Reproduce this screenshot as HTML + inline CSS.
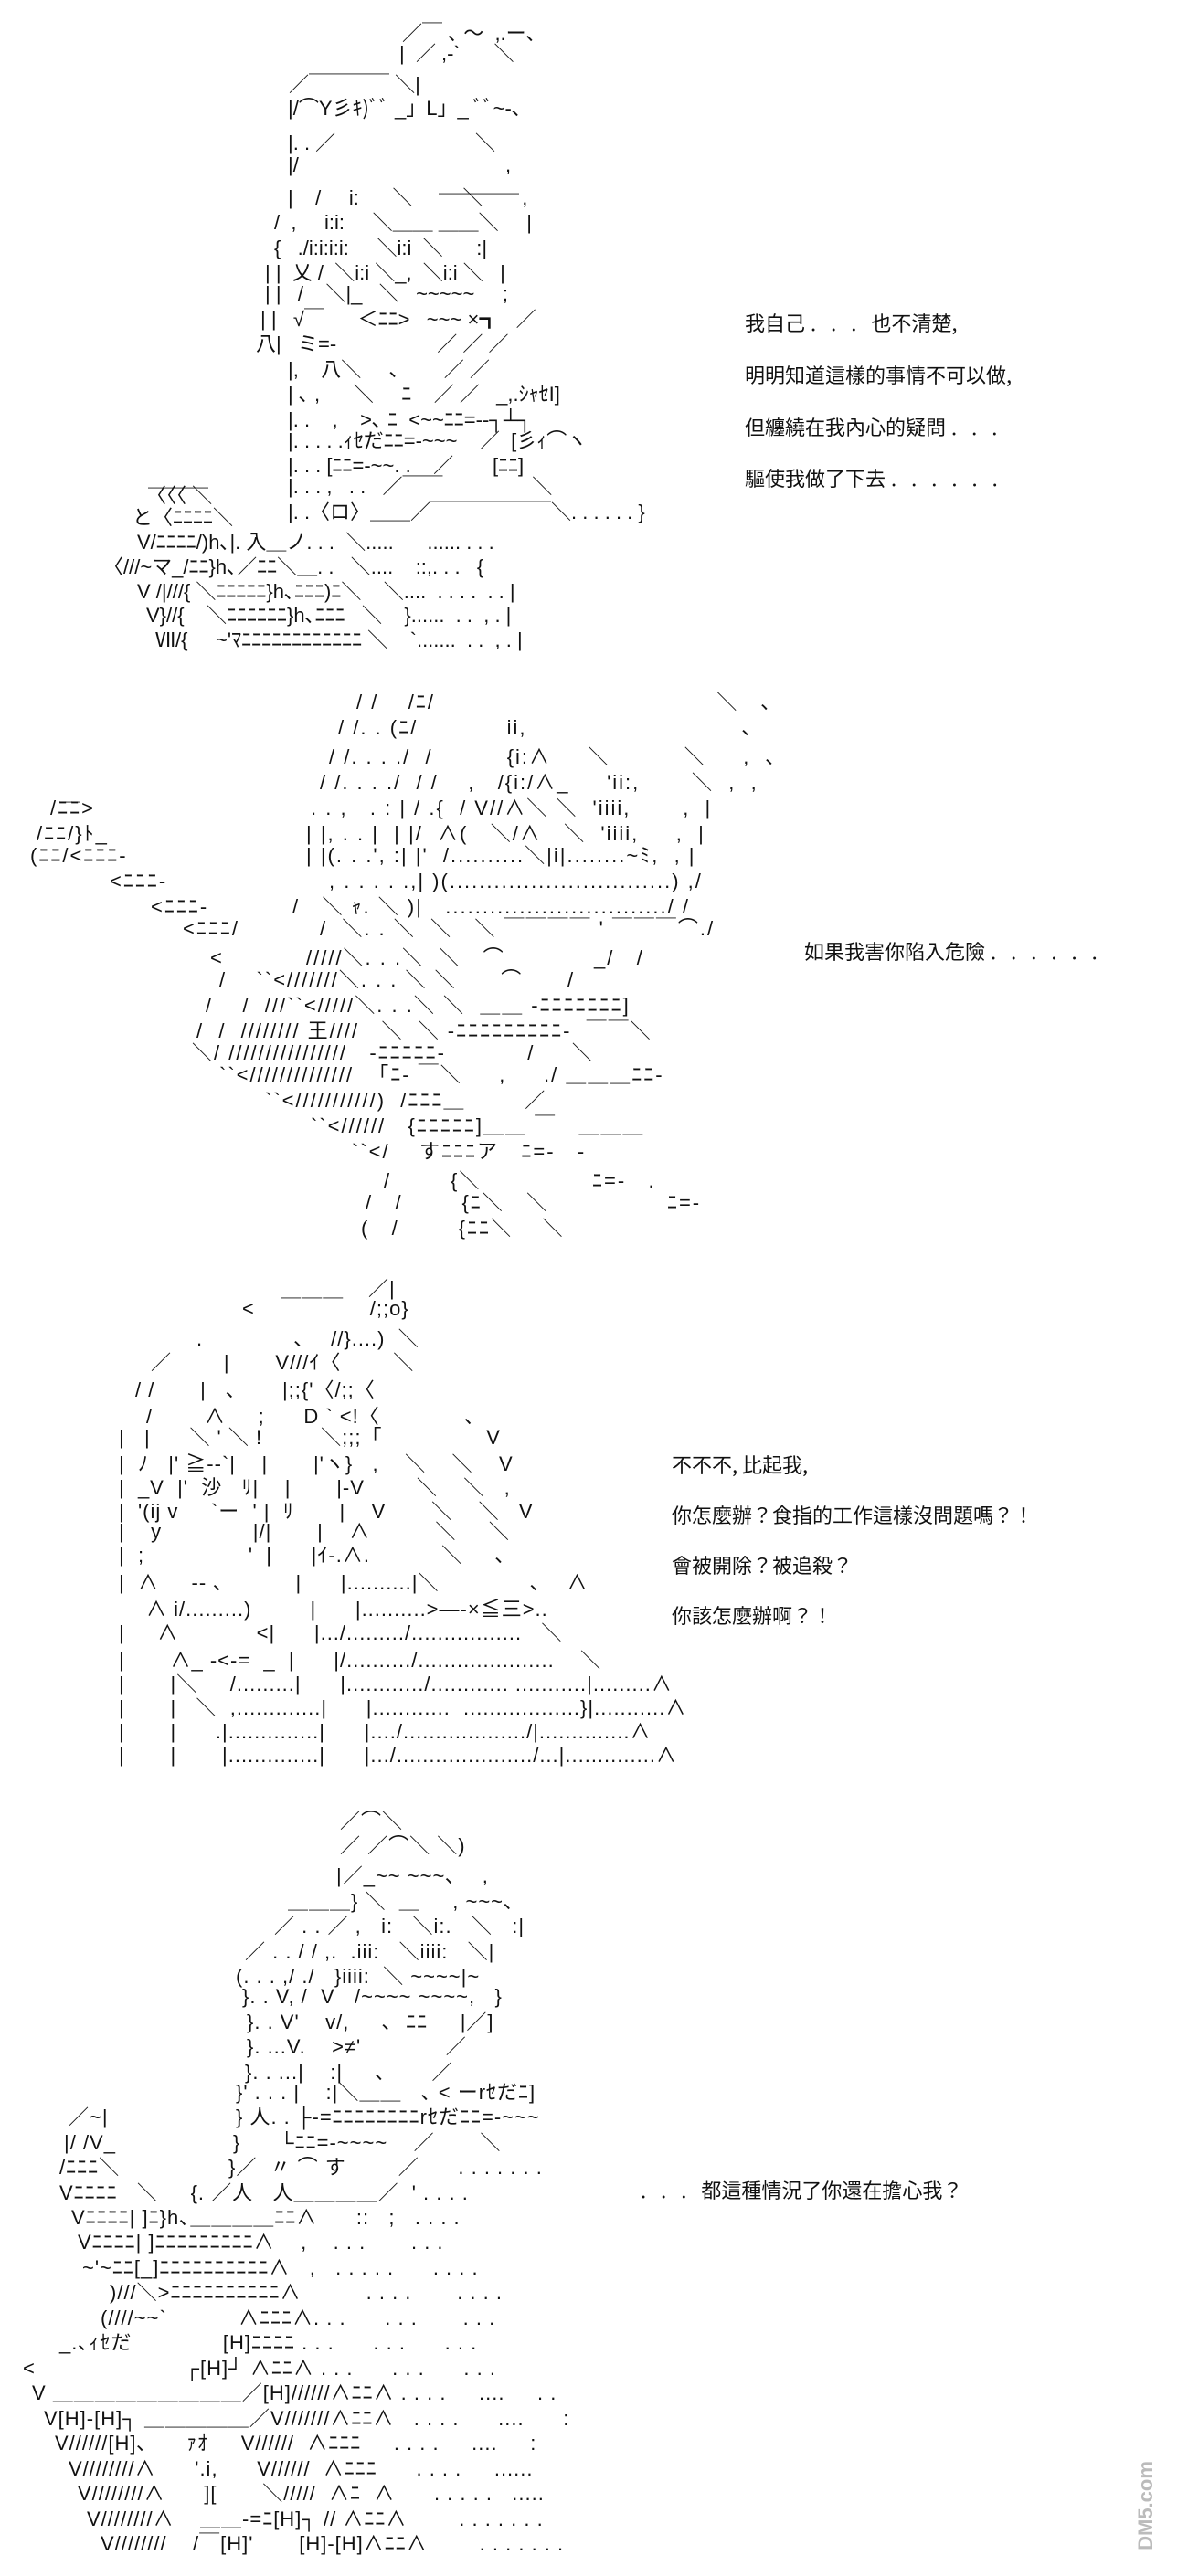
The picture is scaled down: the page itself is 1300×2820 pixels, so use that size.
<!DOCTYPE html>
<html><head><meta charset="utf-8">
<style>
html,body{margin:0;padding:0;background:#fff;}
body{width:1300px;height:2820px;position:relative;overflow:hidden;}
.r{position:absolute;white-space:pre;font-family:"Liberation Sans","Noto Sans CJK JP",sans-serif;font-size:22px;line-height:26px;color:#111;}
.p2 .r{letter-spacing:2px;}
.p3 .r,.p4 .r{letter-spacing:1px;}
.t{position:absolute;white-space:pre;font-family:"Noto Sans CJK JP","Liberation Sans",sans-serif;font-size:22px;line-height:26px;color:#111;}
.d{letter-spacing:16px;padding-left:6px;}
</style></head><body>

<!-- Panel 1 -->
<div class="p1">
<div class="r" style="top:24px;left:440px">／￣ ､ ～  ,.ー､</div>
<div class="r" style="top:46px;left:437px">|  ／ ,-`      ＼</div>
<div class="r" style="top:80px;left:316px">／￣￣￣￣ ＼|</div>
<div class="r" style="top:106px;left:315px">|/⌒Y彡ｷ)ﾞﾞ _」L」_ ﾞﾞ~-､</div>
<div class="r" style="top:144px;left:315px">|. . ／                         ＼</div>
<div class="r" style="top:168px;left:315px">|/                                     ,</div>
<div class="r" style="top:190px;left:480px">＿＿＿＿</div>
<div class="r" style="top:204px;left:315px">|    /     i:      ＼         ＼       ,</div>
<div class="r" style="top:231px;left:300px">/  ,     i:i:     ＼＿＿ ＿＿＼     |</div>
<div class="r" style="top:259px;left:300px">{   ./i:i:i:i:     ＼i:i  ＼      :|</div>
<div class="r" style="top:286px;left:290px">| |  乂 /  ＼i:i ＼_,  ＼i:i ＼   |</div>
<div class="r" style="top:309px;left:290px">| |   /    ＼|_   ＼   ~~~~~     ;</div>
<div class="r" style="top:337px;left:285px">| |   √￣      ＜ﾆﾆ>   ~~~ ×┓   ／</div>
<div class="r" style="top:364px;left:280px">八|   ミ=-                  ／ ／ ／</div>
<div class="r" style="top:392px;left:315px">|,    八＼     ､        ／ ／</div>
<div class="r" style="top:419px;left:315px">| ､ ,      ＼     ﾆ    ／ ／   _,.ｼｬｾI]</div>
<div class="r" style="top:447px;left:315px">|. .    ,    >､ ﾆ  <~~ﾆﾆ=--┐┴┐</div>
<div class="r" style="top:470px;left:315px">|. . . . .ｨｾだﾆﾆ=-~~~    ／  [彡ｨ⌒ヽ</div>
<div class="r" style="top:497px;left:315px">|. . . [ﾆﾆ=-~~. .    ／       [ﾆﾆ]</div>
<div class="r" style="top:520px;left:315px">|. . . ,   . .   ／￣￣                ＼</div>
<div class="r" style="top:512px;left:162px">＿＿＿</div>
<div class="r" style="top:530px;left:160px">〈〈〈 ＼</div>
<div class="r" style="top:548px;left:315px">|. .〈ロ〉＿＿／￣￣￣￣￣￣＼. . . . . . }</div>
<div class="r" style="top:554px;left:145px">と〈ﾆﾆﾆﾆ＼</div>
<div class="r" style="top:581px;left:150px">V/ﾆﾆﾆﾆ/)h､|. 入＿ノ. . .  ＼.....      ...... . . .</div>
<div class="r" style="top:608px;left:113px">〈///~マ_/ﾆﾆ}h､／ﾆﾆ＼＿. .   ＼....    ::,. . .   {</div>
<div class="r" style="top:635px;left:150px">V /|///{ ＼ﾆﾆﾆﾆﾆ}h､ﾆﾆﾆ)ﾆ＼    ＼....  . . . .  . . |</div>
<div class="r" style="top:661px;left:160px">V}//{    ＼ﾆﾆﾆﾆﾆﾆ}h､ﾆﾆﾆ   ＼    }......  . .  , . |</div>
<div class="r" style="top:688px;left:170px">Ⅶ/{     ~'ﾏﾆﾆﾆﾆﾆﾆﾆﾆﾆﾆﾆﾆ ＼    `.......  . .  , . |</div>
</div>

<div class="t" style="top:340px;left:815px">我自己<span class="d">...</span>也不清楚,</div>
<div class="t" style="top:397px;left:815px">明明知道這樣的事情不可以做,</div>
<div class="t" style="top:454px;left:815px">但纏繞在我內心的疑問<span class="d">...</span></div>
<div class="t" style="top:510px;left:815px">驅使我做了下去<span class="d">......</span></div>

<!-- Panel 2 -->
<div class="p2">
<div class="r" style="top:756px;left:390px">/ /    /ﾆ/                                      ＼   ､</div>
<div class="r" style="top:784px;left:370px">/ /. . (ﾆ/            ii,                             ､</div>
<div class="r" style="top:816px;left:360px">/ /. . . ./  /          {i:∧     ＼          ＼     ,  ､</div>
<div class="r" style="top:844px;left:350px">/ /. . . ./  / /    ,   /{i:/∧_     'ii:,       ＼  ,  ,</div>
<div class="r" style="top:856px;left:65px">＿</div>
<div class="r" style="top:872px;left:55px">/ﾆﾆ></div>
<div class="r" style="top:872px;left:340px">. . ,   . : | / .{  / V//∧＼ ＼  'iiii,       ,  |</div>
<div class="r" style="top:900px;left:40px">/ﾆﾆ/}ﾄ_</div>
<div class="r" style="top:900px;left:335px">| |, . . |  | |/  ∧(   ＼/∧   ＼  'iiii,     ,  |</div>
<div class="r" style="top:924px;left:33px">(ﾆﾆ/<ﾆﾆﾆ-</div>
<div class="r" style="top:924px;left:335px">| |(. . .', :| |'  /..........＼|i|........~ﾐ,  , |</div>
<div class="r" style="top:952px;left:120px">&lt;ﾆﾆﾆ-</div>
<div class="r" style="top:952px;left:360px">, . . . . .,| )(..............................) ,/</div>
<div class="r" style="top:980px;left:165px">&lt;ﾆﾆﾆ-</div>
<div class="r" style="top:980px;left:320px">/   ＼ ｬ. ＼ )|   ............................../ /</div>
<div class="r" style="top:1004px;left:200px">&lt;ﾆﾆﾆ/</div>
<div class="r" style="top:1004px;left:350px">/  ＼. . ＼  ＼   ＼ ￣￣￣￣ ' ￣￣￣⌒./</div>
<div class="r" style="top:1036px;left:230px">&lt;</div>
<div class="r" style="top:1036px;left:335px">/////＼. . .＼  ＼   ⌒            _/   /</div>
<div class="r" style="top:1060px;left:240px">/    ``&lt;///////＼. . . ＼ ＼      ⌒      /</div>
<div class="r" style="top:1088px;left:225px">/    /  ///``&lt;/////＼. . .＼ ＼  ＿＿ -ﾆﾆﾆﾆﾆﾆﾆ]</div>
<div class="r" style="top:1116px;left:215px">/  /  //////// 王////   ＼  ＼ -ﾆﾆﾆﾆﾆﾆﾆﾆﾆ-  ￣￣＼</div>
<div class="r" style="top:1140px;left:210px">＼/ ////////////////   -ﾆﾆﾆﾆﾆ-           /     ＼</div>
<div class="r" style="top:1164px;left:240px">``&lt;//////////////  「ﾆ- ￣＼     ,     ./ ＿＿＿ﾆﾆ-</div>
<div class="r" style="top:1192px;left:290px">``&lt;///////////)  /ﾆﾆﾆ＿        ／</div>
<div class="r" style="top:1220px;left:340px">``&lt;//////   {ﾆﾆﾆﾆﾆ]＿＿ ￣   ＿＿＿</div>
<div class="r" style="top:1248px;left:385px">``&lt;/    すﾆﾆﾆア   ﾆ=-   -</div>
<div class="r" style="top:1280px;left:420px">/        {＼               ﾆ=-   .</div>
<div class="r" style="top:1304px;left:400px">/   /        {ﾆ＼   ＼                ﾆ=-</div>
<div class="r" style="top:1332px;left:395px">(   /        {ﾆﾆ＼    ＼</div>
</div>

<div class="t" style="top:1028px;left:880px">如果我害你陷入危險<span class="d">......</span></div>

<!-- Panel 3 -->
<div class="p3">
<div class="r" style="top:1398px;left:403px">／|</div>
<div class="r" style="top:1420px;left:265px">&lt;    ￣￣￣    /;;o}</div>
<div class="r" style="top:1453px;left:215px">.              ､    //}....)  ＼</div>
<div class="r" style="top:1479px;left:165px">／        |       V///ｲ〈        ＼</div>
<div class="r" style="top:1509px;left:148px">/ /       |   ､       |;;{'〈/;;〈</div>
<div class="r" style="top:1538px;left:160px">/        ∧     ;      D ` &lt;!〈             ､</div>
<div class="r" style="top:1561px;left:130px">|   |      ＼ ' ＼ !         ＼;;;「                V</div>
<div class="r" style="top:1590px;left:130px">|  ﾉ   |' ≧--`|    |       |'ヽ}   ,    ＼    ＼    V</div>
<div class="r" style="top:1616px;left:130px">|  _V  |'  沙   ﾘ|    |       |-V        ＼    ＼   ,</div>
<div class="r" style="top:1642px;left:130px">|  '(ij v     `ー  ' |  ﾘ       |    V       ＼    ＼   V</div>
<div class="r" style="top:1664px;left:130px">|    y              |/|       |    ∧          ＼     ＼</div>
<div class="r" style="top:1690px;left:130px">|  ;                '  |      |ｲ-.∧.           ＼     ､</div>
<div class="r" style="top:1720px;left:130px">|  ∧     -- ､           |      |..........|＼              ､    ∧</div>
<div class="r" style="top:1749px;left:160px">∧ i/.........)         |      |..........>―-×≦三>..</div>
<div class="r" style="top:1775px;left:130px">|     ∧            &lt;|      |.../........./.................   ＼</div>
<div class="r" style="top:1805px;left:130px">|       ∧_ -&lt;-=  _  |      |/........../.....................    ＼</div>
<div class="r" style="top:1831px;left:130px">|       |＼     /.........|      |............/............ ...........|.........∧</div>
<div class="r" style="top:1857px;left:130px">|       |   ＼  ,.............|      |............  ..................}|...........∧</div>
<div class="r" style="top:1883px;left:130px">|       |      .|..............|      |..../.................../|..............∧</div>
<div class="r" style="top:1909px;left:130px">|       |       |..............|      |.../...................../...|..............∧</div>
</div>

<div class="t" style="top:1590px;left:735px">不不不, 比起我,</div>
<div class="t" style="top:1645px;left:735px">你怎麼辦？食指的工作這樣沒問題嗎？！</div>
<div class="t" style="top:1700px;left:735px">會被開除？被追殺？</div>
<div class="t" style="top:1755px;left:735px">你該怎麼辦啊？！</div>

<!-- Panel 4 -->
<div class="p4">
<div class="r" style="top:1981px;left:372px">／⌒＼</div>
<div class="r" style="top:2008px;left:372px">／ ／⌒＼ ＼)</div>
<div class="r" style="top:2041px;left:368px">|／_~~ ~~~､    ,</div>
<div class="r" style="top:2069px;left:315px">＿＿＿} ＼  ＿     , ~~~､</div>
<div class="r" style="top:2096px;left:300px">／ . . ／ ,   i:   ＼i:.   ＼   :|</div>
<div class="r" style="top:2124px;left:268px">／ . . / / ,.  .iii:   ＼iiii:   ＼|</div>
<div class="r" style="top:2151px;left:258px">(. . . ,/ ./   }iiii:  ＼ ~~~~|~</div>
<div class="r" style="top:2173px;left:265px">}. . V, /  V   /~~~~ ~~~~,   }</div>
<div class="r" style="top:2201px;left:270px">}. . V'    v/,     ､  ﾆﾆ     |／]</div>
<div class="r" style="top:2228px;left:270px">}. ...V.    >≠'             ／</div>
<div class="r" style="top:2256px;left:268px">}. . ...|    :|     ､       ／</div>
<div class="r" style="top:2278px;left:258px">}' . . . |    :|＼＿＿   ､ &lt; ーrｾだﾆ]</div>
<div class="r" style="top:2305px;left:75px">／~|</div>
<div class="r" style="top:2305px;left:258px">} 人. . ├-=ﾆﾆﾆﾆﾆﾆﾆﾆrｾだﾆﾆ=-~~~</div>
<div class="r" style="top:2333px;left:70px">|/ /V_</div>
<div class="r" style="top:2333px;left:255px">}      └ﾆﾆ=-~~~~    ／       ＼</div>
<div class="r" style="top:2360px;left:65px">/ﾆﾆﾆ＼</div>
<div class="r" style="top:2360px;left:250px">}／  〃 ⌒ す        ／      . . . . . . .</div>
<div class="r" style="top:2388px;left:65px">Vﾆﾆﾆﾆ   ＼     {. ／人   人＿＿＿＿／  ' . . . .</div>
<div class="r" style="top:2415px;left:78px">Vﾆﾆﾆﾆ| ]ﾆ}h､＿＿＿＿ﾆﾆ∧      ::   ;   . . . .</div>
<div class="r" style="top:2442px;left:85px">Vﾆﾆﾆﾆ| ]ﾆﾆﾆﾆﾆﾆﾆﾆﾆ∧    ,    . . .       . . .</div>
<div class="r" style="top:2470px;left:90px">~'~ﾆﾆ[_]ﾆﾆﾆﾆﾆﾆﾆﾆﾆﾆ∧   ,   . . . . .      . . . .</div>
<div class="r" style="top:2497px;left:120px">)///＼>ﾆﾆﾆﾆﾆﾆﾆﾆﾆﾆ∧          . . . .       . . . .</div>
<div class="r" style="top:2525px;left:110px">(////~~`           ∧ﾆﾆﾆ∧. . .      . . .       . . .</div>
<div class="r" style="top:2552px;left:65px">_.､ｨｾだ              [H]ﾆﾆﾆﾆ . . .      . . .      . . .</div>
<div class="r" style="top:2580px;left:25px">&lt;                       ┌[H]┘ ∧ﾆﾆ∧ . . .      . . .      . . .</div>
<div class="r" style="top:2607px;left:35px">V ＿＿＿＿＿＿＿＿＿／[H]//////∧ﾆﾆ∧ . . . .     ....     . .</div>
<div class="r" style="top:2635px;left:48px">V[H]-[H]┐ ＿＿＿＿＿／V///////∧ﾆﾆ∧   . . . .      ....      :</div>
<div class="r" style="top:2662px;left:60px">V//////[H]､      ｧｵ     V//////  ∧ﾆﾆﾆ     . . . .     ....     :</div>
<div class="r" style="top:2690px;left:75px">V////////∧      '.i,      V//////  ∧ﾆﾆﾆ      . . . .     ......</div>
<div class="r" style="top:2717px;left:85px">V////////∧      ][       ＼/////  ∧ﾆ  ∧      . . . . .   .....</div>
<div class="r" style="top:2745px;left:95px">V////////∧    ＿＿-=ﾆ[H]┐ // ∧ﾆﾆ∧        . . . . . . .</div>
<div class="r" style="top:2772px;left:110px">V////////    /￣[H]'       [H]-[H]∧ﾆﾆ∧        . . . . . . .</div>
</div>

<div class="t" style="top:2384px;left:695px"><span class="d">...</span>都這種情況了你還在擔心我？</div>

<div style="position:absolute;left:1205px;top:2730px;transform:rotate(-90deg);font-family:'Liberation Sans',sans-serif;font-size:22px;color:#bbb;font-weight:bold;">DM5.com</div>
</body></html>
